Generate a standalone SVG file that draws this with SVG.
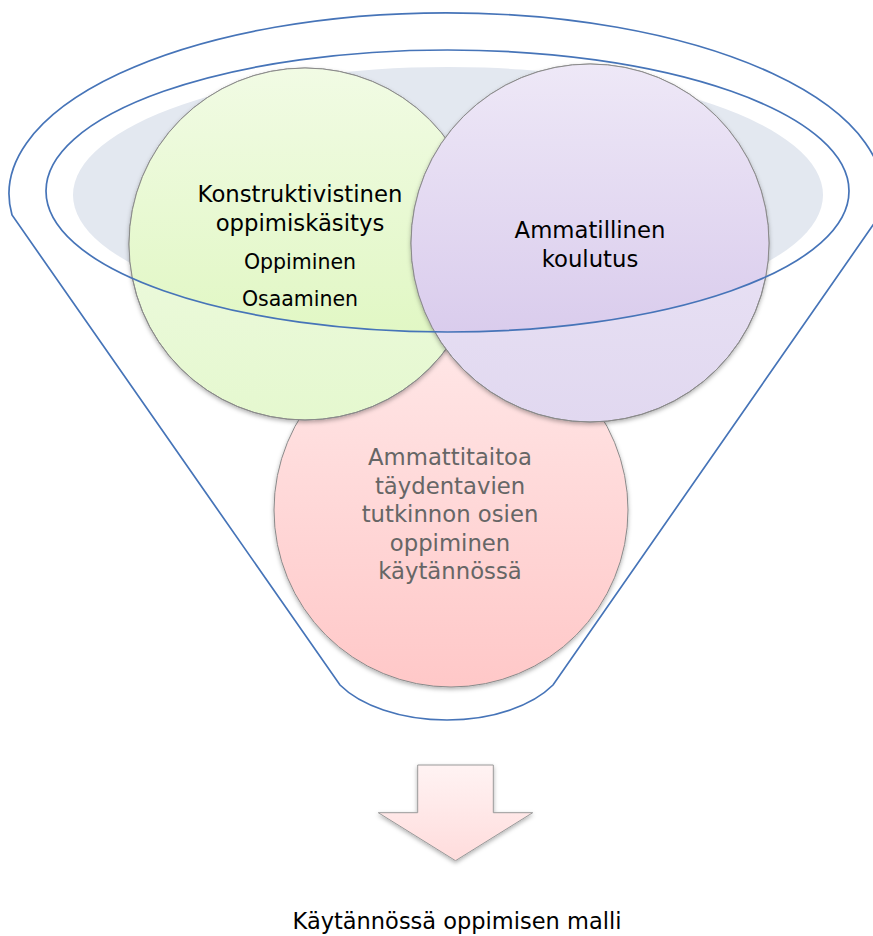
<svg xmlns="http://www.w3.org/2000/svg" width="873" height="936" viewBox="0 0 873 936">
<defs>
<style>
.blue{fill:none;stroke:#4674B8;stroke-width:1.7}
.circ{stroke:#8A8A8A;stroke-width:1}
.t{font-family:"DejaVu Sans","Verdana",sans-serif;text-anchor:middle;fill:#000}
.big{font-size:22.75px}
.small{font-size:20.5px}
.grey{fill:#666666}
</style>
<linearGradient id="gGreen" x1="0" y1="0" x2="0" y2="1">
<stop offset="0" stop-color="#F1FBE4"/><stop offset="1" stop-color="#DCF6BA"/>
</linearGradient>
<linearGradient id="gGreenOut" x1="0" y1="0" x2="0" y2="1">
<stop offset="0" stop-color="#F3FBEA"/><stop offset="1" stop-color="#E5F8CF"/>
</linearGradient>
<linearGradient id="gPurple" x1="0" y1="0" x2="0" y2="1">
<stop offset="0" stop-color="#EEE8F7"/><stop offset="1" stop-color="#D3C3E9"/>
</linearGradient>
<linearGradient id="gPurpleOut" x1="0" y1="0" x2="0" y2="1">
<stop offset="0" stop-color="#EFEAF8"/><stop offset="1" stop-color="#E1D8F0"/>
</linearGradient>
<linearGradient id="gPink" x1="0" y1="0" x2="0" y2="1">
<stop offset="0" stop-color="#FFE7E7"/><stop offset="1" stop-color="#FFC8C8"/>
</linearGradient>
<linearGradient id="gArrow" x1="0" y1="0" x2="0" y2="1">
<stop offset="0" stop-color="#FFF3F3"/><stop offset="1" stop-color="#FFDCDC"/>
</linearGradient>
<clipPath id="inner"><ellipse cx="447.5" cy="191" rx="401.5" ry="141"/></clipPath>
<filter id="sh" x="-10%" y="-10%" width="120%" height="125%">
<feDropShadow dx="0" dy="2" stdDeviation="2" flood-color="#000" flood-opacity="0.3"/>
</filter>
</defs>
<rect width="873" height="936" fill="#FFFFFF"/>

<g id="funnel-outer">
<path class="blue" d="M 12 215 A 437 181 0 1 1 880 215 L 553 685 C 533 705 494 720 447 720 C 400 720 360 705 340 685 Z"/>
</g>
<g id="funnel-basin">
<ellipse cx="448" cy="195" rx="375" ry="128" fill="#E3E8F0"/>
</g>

<g id="node-pink">
<circle class="circ" cx="451" cy="510" r="177" fill="url(#gPink)" filter="url(#sh)"/>
<text class="t big grey" x="450" y="465">Ammattitaitoa</text>
<text class="t big grey" x="450" y="493.5">täydentavien</text>
<text class="t big grey" x="450" y="522">tutkinnon osien</text>
<text class="t big grey" x="450" y="550.5">oppiminen</text>
<text class="t big grey" x="450" y="579">käytännössä</text>
</g>

<g id="node-green">
<circle class="circ" cx="305" cy="244" r="176" fill="url(#gGreenOut)" filter="url(#sh)"/>
<circle cx="305" cy="244" r="176" fill="url(#gGreen)" clip-path="url(#inner)"/>
<circle cx="305" cy="244" r="176" fill="none" class="circ"/>
<text class="t big" x="300" y="202">Konstruktivistinen</text>
<text class="t big" x="300" y="231">oppimiskäsitys</text>
<text class="t small" x="300" y="269">Oppiminen</text>
<text class="t small" x="300" y="306">Osaaminen</text>
</g>

<g id="node-purple">
<circle class="circ" cx="590" cy="243" r="179" fill="url(#gPurpleOut)" filter="url(#sh)"/>
<circle cx="590" cy="243" r="179" fill="url(#gPurple)" clip-path="url(#inner)"/>
<circle cx="590" cy="243" r="179" fill="none" class="circ"/>
<text class="t big" x="590" y="238">Ammatillinen</text>
<text class="t big" x="590" y="267">koulutus</text>
</g>

<g id="funnel-rim">
<ellipse class="blue" cx="447.5" cy="191" rx="401.5" ry="141"/>
</g>

<g id="connectors">
<g id="arrow">
<path d="M 417.7 765 L 493.3 765 L 493.3 812.7 L 532.7 812.7 L 455.5 860.7 L 378.3 812.7 L 417.7 812.7 Z" fill="url(#gArrow)" stroke="#9A9A9A" stroke-width="1" filter="url(#sh)"/>
</g>
</g>

<g id="label-bottom">
<text class="t" x="457" y="929" font-size="22.5">Käytännössä oppimisen malli</text>
</g>
</svg>
